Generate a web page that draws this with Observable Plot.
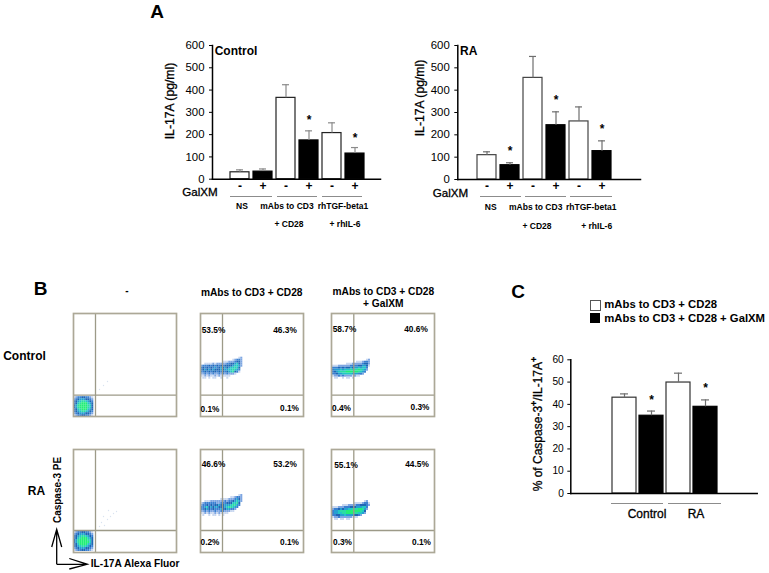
<!DOCTYPE html>
<html><head><meta charset="utf-8">
<script src="https://cdn.jsdelivr.net/npm/d3@7"></script>
<script src="https://cdn.jsdelivr.net/npm/@observablehq/plot@0.6"></script>
<style>
html,body{margin:0;padding:0;background:#fff}
#root{position:relative;width:769px;height:573px;overflow:hidden;font-family:"Liberation Sans",Arial,sans-serif;color:#000}
#root>svg,#root>.p{position:absolute;background:transparent}
.t{position:absolute;white-space:nowrap;line-height:1}
.s{position:absolute;height:1px;background:#8c8c8c}
sup{font-size:.75em;line-height:0;font-weight:700}
</style></head><body><div id="root"></div>
<script>
// ---------- DATA ----------
const stimulation = ["NS-","NS+","CD3-","CD3+","TGF-","TGF+"];
const controlValues = [31,34,365,174,207,115];
const controlErrors = [42,46,424,217,253,142];
const controlStars  = [null,null,null,266,null,183];
const raValues = [109,64,455,243,260,127];
const raErrors = [124,75,551,303,325,173];
const raStars  = [null,127,null,357,null,227];
const ticksA = [0,100,200,300,400,500,600];

const groupC = ["Control-","Control+","RA-","RA+"];
const valuesC = [43,34.9,49.8,38.9];
const errorsC = [44.7,37,54,42];
const starsC  = [null,41.7,null,47.4];
const ticksC = [0,10,20,30,40,50,60];

const flowLevels = [1,2,3,4,5,6,7,8];
const flowColors = ["#c9d8f0","#7ea6e2","#3a80d2","#1f66b4","#25a0d0","#22c8c4","#2bdca4","#22ee77"];

const gridControlNone = ["1233443321","2345554432","3456776543","3467888654","4578888764","4578888764","3467888654","3456776543","2345554432","1233443321"];
const gridRANone = ["1233443321","2345554432","3456776543","3467888654","4578888764","4578888864","3468888654","3456776543","2345554432","1233443321"];
const gridControlCD = ["0000000000000000000120","0000000000000000123320","0000000000011122234420","0011112122222334456420","2333434343434444566520","3434343534545456676400","3454545444545566765300","3343434434343456743100","2232323223232322210000","1121211212111110000000","0110101100100100000000"];
const gridControlGal = ["00000000000000000120","00000000000011123320","00000001112222234420","11122222233334455410","33343434454556566300","35556566676778765200","34567778888887653000","33455666665553320000","12232322221211000000","01100101101000000000"];
const gridRACD = ["0000000000000000000120","0000000000000001123320","0000000000111122235420","0011122222223233456520","1233333322333444667400","2334343445445556775300","3356454554445677653000","3345434333544553320000","2232322322332221100000","1121211212111100000000","0100101101010000000000"];
const gridRAGal = ["00000000000000001200","00000000000111123310","00000111222233444320","11122233344455566300","23345455667778875200","35567778888888764000","35566778888776652000","33445565555443200000","12232222221110000000","01101101100000000000"];
const faintRANone = [[28,30],[31,27],[34,33],[37,36],[40,39],[43,41],[30,36],[26,26],[35,42]];
const faintControlNone = [[26,27],[30,31],[34,35]];

const pctControlNone = [], pctRANone = [];
const pctControlCD  = [["53.5%",13,86],["46.3%",84.5,86],["0.1%",9.5,7.5],["0.1%",89,8]];
const pctControlGal = [["58.7%",13,87],["40.6%",84.5,87],["0.4%",10,8],["0.3%",88.5,9]];
const pctRACD  = [["46.6%",13,88],["53.2%",84.5,88.5],["0.2%",9.5,10],["0.1%",89,10.5]];
const pctRAGal = [["55.1%",14.5,87.5],["44.5%",85.5,88.5],["0.3%",11,10],["0.1%",90,10.5]];

// ---------- HELPERS ----------
const root = document.getElementById("root");
function place(el,left,top){el.style.position="absolute";el.style.left=left+"px";el.style.top=top+"px";root.appendChild(el);}
function T(html,x,y,o={}){
  const e=document.createElement("div");e.className="t";e.innerHTML=html;
  e.style.left=x+"px";e.style.top=y+"px";
  e.style.fontSize=(o.size||12)+"px";e.style.fontWeight=o.bold===false||o.semi?"400":"700";
  if(o.semi) e.style.webkitTextStroke="0.3px #000";
  const ax=o.anchor==="start"?"0":"-50%";
  e.style.transform=`translate(${ax},-50%)`+(o.rotate?` rotate(${o.rotate}deg)`:"");
  root.appendChild(e);
}
function S(x1,x2,y){const e=document.createElement("div");e.className="s";e.style.left=x1+"px";e.style.width=(x2-x1)+"px";e.style.top=y+"px";root.appendChild(e);}

function barChart({cats,values,errors,stars,ticks,yDomain,range,padding,left,top,width,height,margins,fontSize,signs,barStroke,errStroke,capInset,starSize}){
  const rows=cats.map((c,i)=>({c,v:values[i],e:errors[i],s:stars[i],black:c.endsWith("+")}));
  const marks=[
    Plot.barY(rows,{x:"c",y:"v",fill:d=>d.black?"#000":"#fff",stroke:d=>d.black?"#000":barStroke,strokeWidth:1.2}),
    Plot.ruleX(rows,{x:"c",y1:"v",y2:"e",stroke:errStroke,strokeWidth:1.2}),
    Plot.tickY(rows,{x:"c",y:"e",stroke:errStroke,strokeWidth:1.2,insetLeft:capInset,insetRight:capInset}),
    Plot.text(rows.filter(d=>d.s!=null),{x:"c",y:"s",text:()=>"*",fontSize:starSize,fontWeight:700,fill:"#000",lineAnchor:"middle"}),
    Plot.frame({anchor:"left",stroke:"#000",strokeWidth:1.5}),
    Plot.frame({anchor:"bottom",stroke:"#000",strokeWidth:1.5}),
    Plot.axisY({ticks,tickSize:3,tickPadding:signs?5:4,fontSize,stroke:"#000",fill:"#000"})
  ];
  if(signs) marks.push(Plot.axisX({tickSize:0,tickPadding:2,fontSize:12,fontWeight:700,fill:"#000",tickFormat:d=>d.slice(-1),label:null}));
  const svg=Plot.plot({width,height,marginLeft:margins[0],marginRight:margins[1],marginTop:margins[2],marginBottom:margins[3],
    style:{background:"transparent",fontFamily:"'Liberation Sans',Arial,sans-serif"},
    x:{type:"band",domain:cats,range,padding,axis:null,label:null},
    y:{domain:yDomain,axis:null,label:null},
    marks});
  place(svg,left,top);
}

function flowPanel({left,top,grid,gridX,gridY,cell,gateX,gateY,labels,faint}){
  const cells=[];
  grid.forEach((row,r)=>[...row].forEach((ch,c)=>{const v=+ch;if(v>0)cells.push({x1:gridX+c*cell,x2:gridX+(c+1)*cell,y1:gridY-r*cell,y2:gridY-(r+1)*cell,v});}));
  const labs=labels.map(([t,x,y])=>({t,x,y}));
  const pts=(faint||[]).map(([x,y])=>({x,y}));
  const svg=Plot.plot({width:107,height:107,marginLeft:2,marginRight:2,marginTop:2,marginBottom:2,
    style:{background:"transparent",fontFamily:"'Liberation Sans',Arial,sans-serif"},
    x:{domain:[0,103],axis:null},y:{domain:[0,103],axis:null},
    color:{type:"ordinal",domain:flowLevels,range:flowColors},
    marks:[
      Plot.rect(cells,{x1:"x1",x2:"x2",y1:"y1",y2:"y2",fill:"v"}),
      Plot.dot(pts,{x:"x",y:"y",r:0.7,fill:"#d9e2f0"}),
      Plot.ruleX([gateX],{stroke:"#9d9a88",strokeWidth:1.3}),
      Plot.ruleY([gateY],{stroke:"#9d9a88",strokeWidth:1.3}),
      Plot.frame({stroke:"#aca897",strokeWidth:1.7}),
      Plot.text(labs,{x:"x",y:"y",text:"t",fontSize:8.3,fontWeight:700,fill:"#000"})
    ]});
  const g=svg.querySelector('g[aria-label="rect"]');
  if(g) g.style.filter="blur(0.6px)";
  place(svg,left,top);
}

// ---------- PANEL A ----------
barChart({cats:stimulation,values:controlValues,errors:controlErrors,stars:controlStars,ticks:ticksA,yDomain:[0,600],
  range:[75.4,218.5],padding:0.17,left:150,top:30,width:240,height:170,margins:[62,10,15,21.3],fontSize:11.4,signs:true,
  barStroke:"#222",errStroke:"#8a8a8a",capInset:6,starSize:12});
barChart({cats:stimulation,values:raValues,errors:raErrors,stars:raStars,ticks:ticksA,yDomain:[0,600],
  range:[60.2,208],padding:0.17,left:410,top:30,width:235,height:170,margins:[47.3,5,15,21],fontSize:11.4,signs:true,
  barStroke:"#444",errStroke:"#6e6e6e",capInset:6,starSize:12});

T("A",157,11,{size:19});
T("Control",214.7,50.7,{size:12,anchor:"start"});
T("RA",460,50.7,{size:12,anchor:"start"});
T("IL-17A (pg/ml)",170,101,{size:12.2,semi:true,rotate:-90});
T("IL-17A (pg/ml)",420,98,{size:12.2,semi:true,rotate:-90});
T("GalXM",200,192,{size:11.6,semi:true});
T("GalXM",450.5,192.7,{size:11.6,semi:true});
S(230,272,196);S(277,317,196);S(322,362,196);
S(480,520.7,196);S(525,565.7,196);S(570.3,612.3,196);
[["NS",242,205.7],["mAbs to CD3",287,205.7],["rhTGF-beta1",343,205.7],["+ CD28",289,224],["+ rhIL-6",345,224],
 ["NS",490.7,206.7],["mAbs to CD3",535.7,206.7],["rhTGF-beta1",591.3,206.7],["+ CD28",537,225.7],["+ rhIL-6",596.7,225.7]
].forEach(([t,x,y])=>T(t,x,y,{size:8.5}));

// ---------- PANEL B ----------
flowPanel({left:70.7,top:310.7,grid:gridControlNone,gridX:0.3,gridY:19.8,cell:2,gateX:22,gateY:21.3,labels:pctControlNone,faint:faintControlNone});
flowPanel({left:197.7,top:310.7,grid:gridControlCD,gridX:0.3,gridY:59.3,cell:2,gateX:22,gateY:21.3,labels:pctControlCD});
flowPanel({left:329,top:310.7,grid:gridControlGal,gridX:1,gridY:57.3,cell:2,gateX:22.3,gateY:21.3,labels:pctControlGal});
flowPanel({left:70.7,top:447.3,grid:gridRANone,gridX:0.3,gridY:21,cell:2,gateX:22,gateY:22,labels:pctRANone,faint:faintRANone});
flowPanel({left:197.7,top:447.3,grid:gridRACD,gridX:0.3,gridY:58,cell:2,gateX:22,gateY:22,labels:pctRACD});
flowPanel({left:329,top:447.3,grid:gridRAGal,gridX:1,gridY:52,cell:2,gateX:22.3,gateY:22,labels:pctRAGal});

T("B",40.7,287.7,{size:19});
T("-",127,290.7,{size:10});
T("mAbs to CD3 + CD28",251.7,292.7,{size:10.2});
T("mAbs to CD3 + CD28",383.3,292,{size:10.2});
T("+ GalXM",383.3,304,{size:10.2});
T("Control",24.5,356,{size:12});
T("RA",36.5,491,{size:12});
T("Caspase-3 PE",58.3,490,{size:10,rotate:-90});
T("IL-17A Alexa Fluor",90.7,563.5,{size:10.2,anchor:"start"});

const arrows=document.createElementNS("http://www.w3.org/2000/svg","svg");
arrows.setAttribute("width",50);arrows.setAttribute("height",50);
arrows.innerHTML=`<path d="M6.7 44.3V9.3M1.7 27L6.7 9.3L11.7 27M6.7 44.3H37.3M19.3 38.5L37.3 44.3L19.3 49" fill="none" stroke="#000" stroke-width="1.3"/>`;
place(arrows,50,520);

// ---------- PANEL C ----------
barChart({cats:groupC,values:valuesC,errors:errorsC,stars:starsC,ticks:ticksC,yDomain:[0,60],
  range:[67.35,182.2],padding:0.12,left:540,top:345,width:225,height:160,margins:[30.3,8.3,14.3,12],fontSize:10.2,signs:false,
  barStroke:"#333",errStroke:"#6e6e6e",capInset:8,starSize:12});
T("C",518,290.7,{size:19});
T("% of Caspase-3<sup>+</sup>/IL-17A<sup>+</sup>",538,424,{size:12,semi:true,rotate:-90});
T("Control",647,513.7,{size:12,semi:true});
T("RA",696,513.7,{size:12,semi:true});
S(610.7,663.3,503);S(667.7,720.7,503);
const sw1=document.createElement("div");sw1.style.cssText="width:9px;height:9px;background:#fff;border:1px solid #555";place(sw1,589.7,300);
const sw2=document.createElement("div");sw2.style.cssText="width:10px;height:10px;background:#000";place(sw2,589.7,313.3);
T("mAbs to CD3 + CD28",604.3,305,{size:11.3,anchor:"start"});
T("mAbs to CD3 + CD28 + GalXM",604.3,319,{size:11.3,anchor:"start"});
</script></body></html>
